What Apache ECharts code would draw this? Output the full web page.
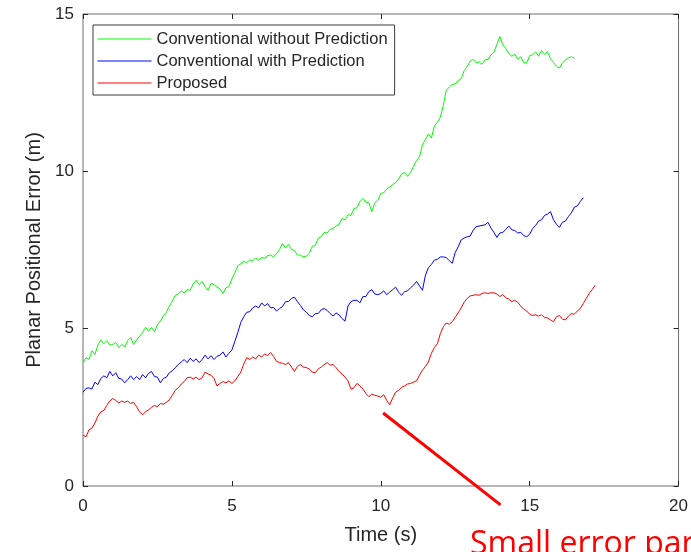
<!DOCTYPE html>
<html>
<head>
<meta charset="utf-8">
<script src="https://cdn.jsdelivr.net/npm/echarts@6/dist/echarts.min.js"></script>
<style>
  html, body { margin: 0; padding: 0; background: #fff; }
  #chart { width: 691px; height: 552px; }
</style>
</head>
<body>
<div id="chart"></div>
<script>
// Sampling step of the logged error traces (s)
const dt = 0.1;

const seriesNames = ['Conventional without Prediction', 'Conventional with Prediction', 'Proposed'];
const seriesColors = ['#00ff00', '#0000ff', '#ff0000'];

// Planar positional error (m), conventional method without prediction
const errNoPred = [
  3.92,4.08,4.02,4.30,4.18,4.48,4.64,4.52,4.62,4.48,
  4.50,4.56,4.40,4.50,4.42,4.62,4.72,4.50,4.64,4.76,
  4.88,5.04,4.92,5.04,4.90,5.12,5.24,5.40,5.52,5.72,
  5.88,6.06,6.10,6.20,6.14,6.24,6.22,6.42,6.54,6.40,
  6.50,6.34,6.22,6.44,6.40,6.32,6.26,6.12,6.30,6.34,
  6.58,6.78,7.00,7.06,7.14,7.10,7.18,7.16,7.24,7.18,
  7.26,7.24,7.32,7.34,7.28,7.38,7.52,7.70,7.56,7.68,
  7.52,7.48,7.34,7.34,7.28,7.30,7.40,7.62,7.64,7.88,
  7.92,8.06,8.04,8.16,8.18,8.26,8.32,8.50,8.46,8.62,
  8.60,8.82,8.84,9.04,9.14,9.02,9.00,8.72,9.00,9.08,
  9.30,9.32,9.44,9.50,9.58,9.64,9.76,9.92,9.96,9.84,
  9.96,10.16,10.34,10.46,10.84,11.02,11.18,11.06,11.44,11.56,
  11.72,12.10,12.58,12.68,12.76,12.78,12.88,12.94,13.20,13.32,
  13.50,13.56,13.46,13.48,13.40,13.54,13.56,13.70,13.78,14.04,
  14.28,14.02,13.90,13.74,13.66,13.72,13.56,13.64,13.46,13.44,
  13.68,13.70,13.80,13.66,13.84,13.72,13.80,13.58,13.46,13.34,
  13.28,13.44,13.54,13.60,13.64,13.60
];

// Planar positional error (m), conventional method with prediction
const errWithPred = [
  2.98,3.10,3.12,3.08,3.30,3.22,3.42,3.50,3.44,3.64,
  3.50,3.60,3.42,3.40,3.28,3.38,3.50,3.38,3.48,3.38,
  3.54,3.44,3.58,3.64,3.48,3.46,3.28,3.42,3.46,3.60,
  3.66,3.76,3.86,3.94,4.02,3.92,4.06,3.96,4.04,3.92,
  4.02,4.16,4.04,4.14,4.02,4.12,4.16,4.26,4.10,4.22,
  4.32,4.60,4.88,5.20,5.38,5.52,5.54,5.66,5.72,5.66,
  5.82,5.72,5.80,5.66,5.68,5.56,5.64,5.70,5.86,5.86,
  5.96,6.00,5.86,5.74,5.60,5.52,5.42,5.38,5.48,5.48,
  5.60,5.64,5.58,5.48,5.40,5.50,5.44,5.32,5.24,5.72,
  5.86,5.90,5.90,5.82,6.02,6.02,6.18,6.24,6.10,6.08,
  6.12,6.20,6.08,6.16,6.24,6.32,6.16,6.06,6.18,6.20,
  6.30,6.38,6.50,6.36,6.22,6.70,6.94,7.04,7.18,7.20,
  7.28,7.28,7.26,7.16,7.08,7.42,7.60,7.82,7.88,7.92,
  7.94,8.12,8.24,8.26,8.28,8.30,8.38,8.20,8.06,7.90,
  8.04,8.06,8.16,8.26,8.14,8.12,8.04,8.06,7.96,7.92,
  8.00,8.18,8.28,8.42,8.46,8.60,8.64,8.72,8.46,8.32,
  8.22,8.38,8.42,8.56,8.68,8.86,8.90,9.04,9.16
];

// Planar positional error (m), proposed method
const errProposed = [
  1.62,1.56,1.78,1.84,2.00,2.22,2.36,2.40,2.56,2.70,
  2.78,2.72,2.64,2.70,2.66,2.70,2.62,2.66,2.52,2.36,
  2.26,2.36,2.42,2.50,2.56,2.52,2.62,2.60,2.66,2.74,
  2.88,3.04,3.12,3.24,3.32,3.44,3.46,3.40,3.46,3.38,
  3.44,3.62,3.56,3.52,3.42,3.18,3.26,3.32,3.28,3.34,
  3.26,3.34,3.48,3.62,3.88,4.08,4.02,4.10,4.04,4.16,
  4.10,4.20,4.14,4.24,4.12,3.96,3.92,3.90,3.86,3.92,
  3.78,3.64,3.80,3.86,3.78,3.76,3.72,3.62,3.60,3.72,
  3.78,3.86,3.92,3.84,3.86,3.76,3.64,3.56,3.46,3.34,
  3.08,3.12,3.26,3.18,3.08,2.94,2.84,2.92,2.88,2.86,
  2.82,2.90,2.72,2.58,2.80,2.98,3.04,3.14,3.18,3.24,
  3.26,3.30,3.34,3.52,3.68,3.80,3.94,4.22,4.40,4.52,
  4.84,5.06,5.18,5.14,5.22,5.36,5.50,5.66,5.84,5.96,
  6.04,6.06,6.08,6.06,6.12,6.14,6.12,6.14,6.14,6.10,
  6.02,6.08,5.98,5.94,5.86,5.90,5.84,5.72,5.62,5.56,
  5.46,5.42,5.44,5.40,5.44,5.36,5.34,5.28,5.22,5.38,
  5.42,5.30,5.28,5.40,5.48,5.46,5.56,5.64,5.80,5.96,
  6.12,6.24,6.38
];

// Axis ranges and tick spacing
const xRange = [0, 20];
const yRange = [0, 15];
const tickStep = 5;

// Callout pointing at the low-error stretch of the proposed method
const calloutFrom = [10.08, 2.32];
const calloutTo = [14.02, -0.6];
const calloutText = 'Small error part';

function toPairs(values) {
  return values.map((v, i) => [Math.round(i * dt * 100) / 100, v]);
}

const FONT = '"Liberation Sans", Arial, Helvetica, sans-serif';
const TEXT = '#262626';
const AXIS = '#6e6e6e';
const TICK_LEN = 5;

// Main axis: labels and title only (the frame comes from the grid border)
function mainAxis(range, extra) {
  return Object.assign({
    type: 'value', min: range[0], max: range[1], interval: tickStep,
    axisLine: { show: false, onZero: false },
    axisTick: { show: false },
    splitLine: { show: false }
  }, extra);
}

// Tick-only axis pulled into the plot so its outward ticks end on the frame
function tickAxis(range, position) {
  return {
    type: 'value', min: range[0], max: range[1], interval: tickStep,
    position: position, offset: -TICK_LEN,
    axisLine: { show: false, onZero: false },
    axisTick: { show: true, inside: false, length: TICK_LEN, lineStyle: { color: TEXT, width: 1 } },
    axisLabel: { show: false },
    splitLine: { show: false }
  };
}

const chart = echarts.init(document.getElementById('chart'), null, { renderer: 'canvas' });

const option = {
  animation: false,
  backgroundColor: '#ffffff',
  grid: {
    left: 83, right: 9, top: 14, bottom: 66,
    show: true, borderColor: AXIS, borderWidth: 1, backgroundColor: 'transparent'
  },
  legend: {
    orient: 'vertical',
    left: 93, top: 25,
    padding: [5, 7, 3, 4],
    itemGap: 4,
    itemWidth: 54, itemHeight: 14,
    borderColor: '#3a3a3a', borderWidth: 1,
    backgroundColor: '#ffffff',
    itemStyle: { opacity: 0 },
    lineStyle: { width: 1 },
    textStyle: { fontFamily: FONT, fontSize: 16.5, color: TEXT, lineHeight: 18 },
    data: seriesNames
  },
  xAxis: [
    mainAxis(xRange, {
      position: 'bottom',
      name: 'Time (s)', nameLocation: 'middle', nameGap: 39,
      nameTextStyle: { fontFamily: FONT, fontSize: 20, color: TEXT },
      axisLabel: { fontFamily: FONT, fontSize: 17, color: TEXT, margin: 12 }
    }),
    tickAxis(xRange, 'bottom'),
    tickAxis(xRange, 'top')
  ],
  yAxis: [
    mainAxis(yRange, {
      position: 'left',
      name: 'Planar Positional Error (m)', nameLocation: 'middle', nameGap: 35,
      nameTextStyle: { fontFamily: FONT, fontSize: 20, color: TEXT },
      axisLabel: { fontFamily: FONT, fontSize: 17, color: TEXT, margin: 9 }
    }),
    tickAxis(yRange, 'left'),
    tickAxis(yRange, 'right')
  ],
  series: [errNoPred, errWithPred, errProposed].map((vals, k) => ({
    name: seriesNames[k],
    type: 'line',
    xAxisIndex: 0, yAxisIndex: 0,
    data: toPairs(vals),
    showSymbol: false, symbol: 'none',
    color: seriesColors[k],
    lineStyle: { color: seriesColors[k], width: 1 },
    emphasis: { disabled: true }
  }))
};

chart.setOption(option);

// Callout line and its caption, placed through the axes' own scales
const p0 = chart.convertToPixel({ xAxisIndex: 0, yAxisIndex: 0 }, calloutFrom);
const p1 = chart.convertToPixel({ xAxisIndex: 0, yAxisIndex: 0 }, calloutTo);
chart.setOption({
  graphic: [{
    type: 'line', silent: true, z: 100,
    shape: { x1: p0[0], y1: p0[1], x2: p1[0], y2: p1[1] },
    style: { stroke: '#ff0000', lineWidth: 3 }
  }, {
    type: 'text', silent: true, z: 100,
    left: 470, top: 529,
    style: { text: calloutText, fill: '#ff0000', font: '32px "Open Sans", sans-serif' }
  }]
});
</script>
</body>
</html>
